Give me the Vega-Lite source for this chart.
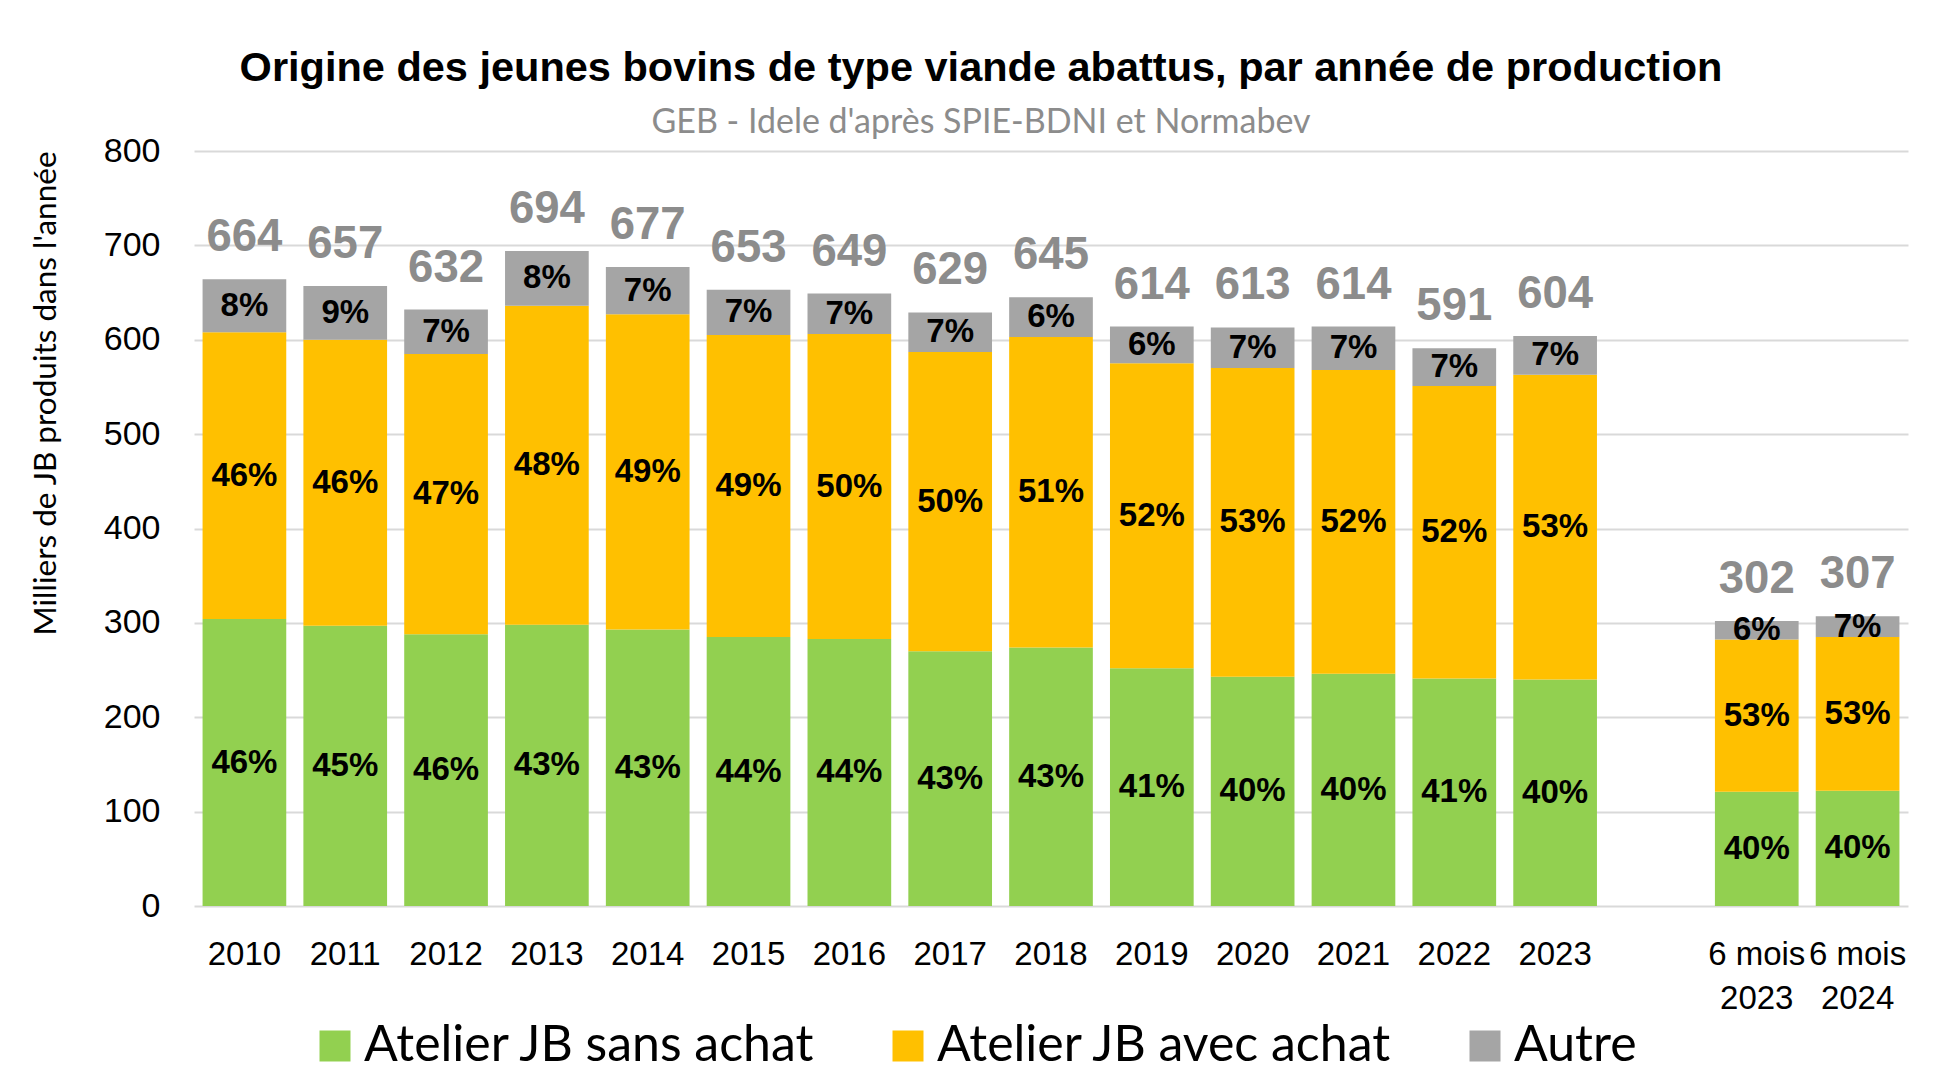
{
  "$schema": "https://vega.github.io/schema/vega-lite/v6.json",
  "autosize": "none",
  "width": 1714,
  "height": 755,
  "padding": {"left": 194, "top": 151, "right": 31, "bottom": 182},
  "background": "white",
  "title": {
    "text": "Origine des jeunes bovins de type viande abattus, par année de production",
    "subtitle": "GEB - Idele d'après SPIE-BDNI et Normabev",
    "anchor": "middle",
    "dx": -70,
    "font": "Liberation Sans",
    "fontSize": 41.5,
    "fontWeight": "bold",
    "color": "#000000",
    "subtitleFont": "Lato",
    "subtitleFontSize": 34,
    "subtitleColor": "#8c8c8c",
    "subtitlePadding": 17,
    "offset": -6
  },
  "data": {
    "values": [
      {"cat": "2010", "serie": "Atelier JB sans achat", "order": 1, "value": 304, "pct": "46%"},
      {"cat": "2010", "serie": "Atelier JB avec achat", "order": 2, "value": 304, "pct": "46%"},
      {"cat": "2010", "serie": "Autre", "order": 3, "value": 56, "pct": "8%"},
      {"cat": "2011", "serie": "Atelier JB sans achat", "order": 1, "value": 297, "pct": "45%"},
      {"cat": "2011", "serie": "Atelier JB avec achat", "order": 2, "value": 303, "pct": "46%"},
      {"cat": "2011", "serie": "Autre", "order": 3, "value": 57, "pct": "9%"},
      {"cat": "2012", "serie": "Atelier JB sans achat", "order": 1, "value": 288, "pct": "46%"},
      {"cat": "2012", "serie": "Atelier JB avec achat", "order": 2, "value": 297, "pct": "47%"},
      {"cat": "2012", "serie": "Autre", "order": 3, "value": 47, "pct": "7%"},
      {"cat": "2013", "serie": "Atelier JB sans achat", "order": 1, "value": 298, "pct": "43%"},
      {"cat": "2013", "serie": "Atelier JB avec achat", "order": 2, "value": 338, "pct": "48%"},
      {"cat": "2013", "serie": "Autre", "order": 3, "value": 58, "pct": "8%"},
      {"cat": "2014", "serie": "Atelier JB sans achat", "order": 1, "value": 293, "pct": "43%"},
      {"cat": "2014", "serie": "Atelier JB avec achat", "order": 2, "value": 334, "pct": "49%"},
      {"cat": "2014", "serie": "Autre", "order": 3, "value": 50, "pct": "7%"},
      {"cat": "2015", "serie": "Atelier JB sans achat", "order": 1, "value": 285, "pct": "44%"},
      {"cat": "2015", "serie": "Atelier JB avec achat", "order": 2, "value": 320, "pct": "49%"},
      {"cat": "2015", "serie": "Autre", "order": 3, "value": 48, "pct": "7%"},
      {"cat": "2016", "serie": "Atelier JB sans achat", "order": 1, "value": 283, "pct": "44%"},
      {"cat": "2016", "serie": "Atelier JB avec achat", "order": 2, "value": 323, "pct": "50%"},
      {"cat": "2016", "serie": "Autre", "order": 3, "value": 43, "pct": "7%"},
      {"cat": "2017", "serie": "Atelier JB sans achat", "order": 1, "value": 270, "pct": "43%"},
      {"cat": "2017", "serie": "Atelier JB avec achat", "order": 2, "value": 317, "pct": "50%"},
      {"cat": "2017", "serie": "Autre", "order": 3, "value": 42, "pct": "7%"},
      {"cat": "2018", "serie": "Atelier JB sans achat", "order": 1, "value": 274, "pct": "43%"},
      {"cat": "2018", "serie": "Atelier JB avec achat", "order": 2, "value": 329, "pct": "51%"},
      {"cat": "2018", "serie": "Autre", "order": 3, "value": 42, "pct": "6%"},
      {"cat": "2019", "serie": "Atelier JB sans achat", "order": 1, "value": 252, "pct": "41%"},
      {"cat": "2019", "serie": "Atelier JB avec achat", "order": 2, "value": 323, "pct": "52%"},
      {"cat": "2019", "serie": "Autre", "order": 3, "value": 39, "pct": "6%"},
      {"cat": "2020", "serie": "Atelier JB sans achat", "order": 1, "value": 243, "pct": "40%"},
      {"cat": "2020", "serie": "Atelier JB avec achat", "order": 2, "value": 327, "pct": "53%"},
      {"cat": "2020", "serie": "Autre", "order": 3, "value": 43, "pct": "7%"},
      {"cat": "2021", "serie": "Atelier JB sans achat", "order": 1, "value": 246, "pct": "40%"},
      {"cat": "2021", "serie": "Atelier JB avec achat", "order": 2, "value": 322, "pct": "52%"},
      {"cat": "2021", "serie": "Autre", "order": 3, "value": 46, "pct": "7%"},
      {"cat": "2022", "serie": "Atelier JB sans achat", "order": 1, "value": 241, "pct": "41%"},
      {"cat": "2022", "serie": "Atelier JB avec achat", "order": 2, "value": 310, "pct": "52%"},
      {"cat": "2022", "serie": "Autre", "order": 3, "value": 40, "pct": "7%"},
      {"cat": "2023", "serie": "Atelier JB sans achat", "order": 1, "value": 240, "pct": "40%"},
      {"cat": "2023", "serie": "Atelier JB avec achat", "order": 2, "value": 323, "pct": "53%"},
      {"cat": "2023", "serie": "Autre", "order": 3, "value": 41, "pct": "7%"},
      {"cat": "6 mois 2023", "serie": "Atelier JB sans achat", "order": 1, "value": 121, "pct": "40%"},
      {"cat": "6 mois 2023", "serie": "Atelier JB avec achat", "order": 2, "value": 161.5, "pct": "53%"},
      {"cat": "6 mois 2023", "serie": "Autre", "order": 3, "value": 19.5, "pct": "6%"},
      {"cat": "6 mois 2024", "serie": "Atelier JB sans achat", "order": 1, "value": 122, "pct": "40%"},
      {"cat": "6 mois 2024", "serie": "Atelier JB avec achat", "order": 2, "value": 163, "pct": "53%"},
      {"cat": "6 mois 2024", "serie": "Autre", "order": 3, "value": 22, "pct": "7%"}
    ]
  },
  "transform": [
    {"stack": "value", "groupby": ["cat"], "sort": [{"field": "order", "order": "ascending"}], "as": ["y0", "y1"]},
    {"calculate": "(datum.y0 + datum.y1) / 2", "as": "ymid"}
  ],
  "encoding": {
    "x": {
      "field": "cat",
      "type": "nominal",
      "sort": null,
      "scale": {
        "domain": ["2010", "2011", "2012", "2013", "2014", "2015", "2016", "2017", "2018", "2019", "2020", "2021", "2022", "2023", "gap", "6 mois 2023", "6 mois 2024"],
        "paddingInner": 0.17,
        "paddingOuter": 0.085
      },
      "axis": {
        "title": null,
        "domain": false,
        "ticks": false,
        "labelAngle": 0,
        "labelFont": "Liberation Sans",
        "labelFontSize": 33,
        "labelColor": "#000000",
        "labelPadding": 32,
        "labelLineHeight": 44,
        "labelBaseline": "top",
        "labelExpr": "datum.label == 'gap' ? '' : (indexof(datum.label, 'mois') > 0 ? [substring(datum.label, 0, 6), substring(datum.label, 7)] : datum.label)"
      }
    }
  },
  "layer": [
    {
      "mark": {"type": "bar"},
      "encoding": {
        "y": {
          "field": "y0",
          "type": "quantitative",
          "scale": {"domain": [0, 800]},
          "axis": {
            "values": [0, 100, 200, 300, 400, 500, 600, 700, 800],
            "title": "Milliers de JB produits dans l'année",
            "titleFont": "Lato",
            "titleFontSize": 31.5,
            "titleFontWeight": "normal",
            "titleColor": "#000000",
            "titleX": -148,
            "titleY": 242,
            "titleAngle": -90,
            "titleAlign": "center",
            "titleBaseline": "middle",
            "domain": false,
            "ticks": false,
            "labelFont": "Liberation Sans",
            "labelFontSize": 34,
            "labelColor": "#000000",
            "labelPadding": 34,
            "grid": true,
            "gridColor": "#d9d9d9",
            "gridWidth": 2
          }
        },
        "y2": {"field": "y1"},
        "color": {
          "field": "serie",
          "type": "nominal",
          "scale": {
            "domain": ["Atelier JB sans achat", "Atelier JB avec achat", "Autre"],
            "range": ["#92d050", "#ffc000", "#a5a5a5"]
          },
          "legend": {
            "title": null,
            "orient": "none",
            "direction": "horizontal",
            "legendX": 116,
            "legendY": 870,
            "symbolType": "square",
            "symbolSize": 961,
            "symbolStrokeWidth": 0,
            "symbolOpacity": 1,
            "labelFont": "Lato",
            "labelFontSize": 50,
            "labelColor": "#000000",
            "labelOffset": 4,
            "columnPadding": 67,
            "labelLimit": 700
          }
        }
      }
    },
    {
      "mark": {"type": "text", "font": "Liberation Sans", "fontWeight": "bold", "fontSize": 33, "color": "#000000", "baseline": "middle", "align": "center"},
      "encoding": {
        "y": {"field": "ymid", "type": "quantitative"},
        "text": {"field": "pct", "type": "nominal"}
      }
    },
    {
      "transform": [
        {"aggregate": [{"op": "sum", "field": "value", "as": "total"}], "groupby": ["cat"]}
      ],
      "mark": {"type": "text", "font": "Liberation Sans", "fontWeight": "bold", "fontSize": 45.5, "color": "#8c8c8c", "baseline": "alphabetic", "align": "center", "dy": -28},
      "encoding": {
        "y": {"field": "total", "type": "quantitative"},
        "text": {"field": "total", "type": "quantitative", "format": ".0f"}
      }
    }
  ],
  "config": {
    "view": {"stroke": null}
  }
}
